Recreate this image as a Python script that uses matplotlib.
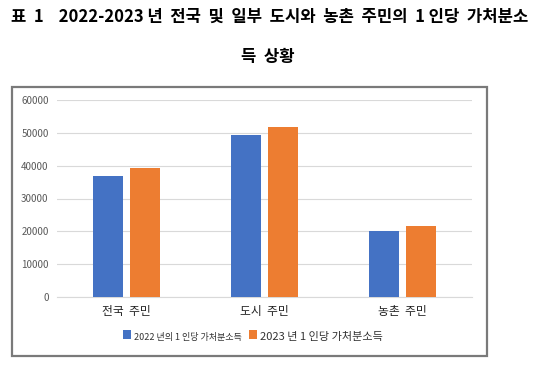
import matplotlib
matplotlib.use("Agg")
import matplotlib.pyplot as plt
from matplotlib.patches import Rectangle
import numpy as np

plt.rcParams['font.family'] = ['Noto Sans CJK KR', 'DejaVu Sans']

categories = ['전국  주민', '도시  주민', '농촌  주민']
series_names = ['2022 년의 1 인당 가처분소득', '2023 년 1 인당 가처분소득']
values_2022 = [36883, 49283, 20133]
values_2023 = [39218, 51821, 21691]
yticks = [0, 10000, 20000, 30000, 40000, 50000, 60000]
title_line1 = '표  1    2022-2023 년  전국  및  일부  도시와  농촌  주민의  1 인당  가처분소'
title_line2 = '득  상황'

W, H = 538, 365
fig = plt.figure(figsize=(W/100, H/100), dpi=100)

# chart border
fig.patches.append(Rectangle((12/W, 1-356/H), 475/W, 269/H, transform=fig.transFigure,
                             fill=False, edgecolor='#7a7a7a', linewidth=1.6))

ax = fig.add_axes([57/W, 1-297/H, 415/W, 197/H])
x = np.arange(len(categories))
bw = 0.217
off = 0.134
b1 = ax.bar(x - off, values_2022, bw, color='#4472C4', label=series_names[0], zorder=3)
b2 = ax.bar(x + off, values_2023, bw, color='#ED7D31', label=series_names[1], zorder=3)
ax.set_xlim(-0.5, 2.5)
ax.set_ylim(0, 60000)
ax.set_yticks(yticks)
ax.set_yticklabels([str(v) for v in yticks], fontsize=7, color='#595959')
ax.set_xticks(x)
ax.set_xticklabels(categories, fontsize=8.5, color='#222222')
ax.tick_params(axis='both', length=0)
ax.tick_params(axis='y', pad=6)
ax.tick_params(axis='x', pad=6)
ax.grid(axis='y', color='#d9d9d9', linewidth=0.8, zorder=0)
for s in ax.spines.values():
    s.set_visible(False)
ax.spines['bottom'].set_visible(True)
ax.spines['bottom'].set_color('#d9d9d9')
ax.spines['bottom'].set_linewidth(0.8)

leg = ax.legend(handles=[b1, b2], loc='center', bbox_to_anchor=(253/W, 1-336/H),
                bbox_transform=fig.transFigure, ncol=2, frameon=False,
                handlelength=0.6, handleheight=0.6, handletextpad=0.2,
                columnspacing=0.5, borderpad=0)
leg.get_texts()[0].set_fontsize(6.5)
leg.get_texts()[1].set_fontsize(8)
for t in leg.get_texts():
    t.set_color('#333333')

fig.text(270/W, 1-17/H, title_line1, ha='center', va='center', fontsize=12,
         fontweight='bold', color='black')
fig.text(268/W, 1-57/H, title_line2, ha='center', va='center', fontsize=12,
         fontweight='bold', color='black')

fig.savefig('out.png', dpi=100)
